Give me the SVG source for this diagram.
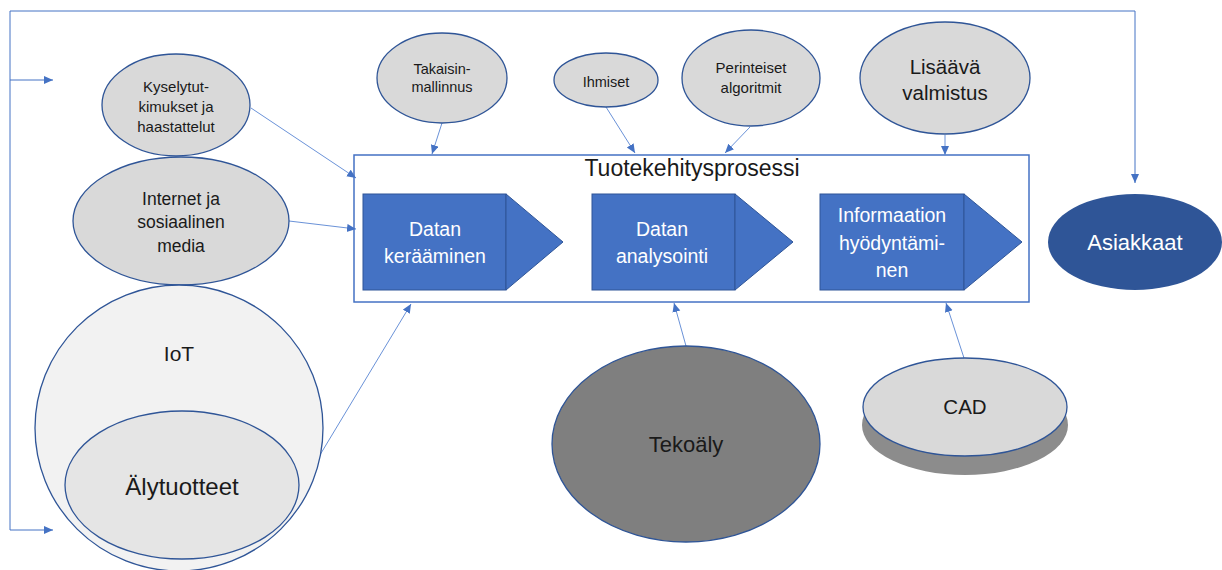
<svg xmlns="http://www.w3.org/2000/svg" width="1222" height="570" viewBox="0 0 1222 570">
<style>
text{font-family:"Liberation Sans",Arial,sans-serif;text-anchor:middle;fill:#1a1a1a}
.src{fill:#D9D9D9;stroke:#2F5597;stroke-width:1.3}
.conn{fill:none;stroke:#6A92D8;stroke-width:1;marker-end:url(#ah)}
.fb{fill:none;stroke:#4472C4;stroke-width:1;marker-end:url(#ah)}
.chev{fill:#4472C4;stroke:#2F5597;stroke-width:1}
.wt{fill:#ffffff}
</style>
<defs>
<marker id="ah" markerUnits="userSpaceOnUse" markerWidth="10" markerHeight="10" refX="9" refY="4" orient="auto">
<path d="M0,0 L9,4 L0,8 z" fill="#4472C4"/>
</marker>
</defs>
<rect width="1222" height="570" fill="#ffffff"/>

<g id="process-box">
<rect x="354" y="155" width="675" height="147" fill="#ffffff" stroke="#4472C4" stroke-width="1.5"/>
<text x="692" y="176" font-size="23">Tuotekehitysprosessi</text>
</g>

<g id="step1">
<rect class="chev" x="363" y="194" width="143" height="96"/>
<path class="chev" d="M506,194 L563,242 L506,290 z"/>
<text class="wt" x="435" y="236" font-size="19.5">Datan</text>
<text class="wt" x="435" y="263" font-size="19.5">kerääminen</text>
</g>
<g id="step2">
<rect class="chev" x="592" y="194" width="143" height="96"/>
<path class="chev" d="M735,194 L793,242 L735,290 z"/>
<text class="wt" x="662" y="236" font-size="19.5">Datan</text>
<text class="wt" x="662" y="263" font-size="19.5">analysointi</text>
</g>
<g id="step3">
<rect class="chev" x="820" y="194" width="144" height="96"/>
<path class="chev" d="M964,194 L1022,242 L964,290 z"/>
<text class="wt" x="892" y="222" font-size="19.5">Informaation</text>
<text class="wt" x="892" y="250" font-size="19.5">hyödyntämi-</text>
<text class="wt" x="892" y="277" font-size="19.5">nen</text>
</g>

<g id="connectors">
<path class="fb" d="M10,530 L10,11 L1135,11 L1135,183"/>
<path class="fb" d="M10,80 L53,80"/>
<path class="fb" d="M10,530 L53,530"/>
<path class="conn" d="M251,108 L356,178"/>
<path class="conn" d="M289,221 L356,229"/>
<path class="conn" d="M297,493 L411,304"/>
<path class="conn" d="M442,123 L432,154"/>
<path class="conn" d="M606,107 L635,153"/>
<path class="conn" d="M750,127 L725,153"/>
<path class="conn" d="M945,135 L945,155"/>
<path class="conn" d="M686,346 L674,303"/>
<path class="conn" d="M964,358 L946,303"/>
</g>

<g id="kyselytutkimukset">
<ellipse class="src" cx="176" cy="105" rx="74" ry="51"/>
<text x="176" y="92" font-size="15">Kyselytut-</text>
<text x="176" y="112" font-size="15">kimukset ja</text>
<text x="176" y="132" font-size="15">haastattelut</text>
</g>

<g id="internet">
<ellipse class="src" cx="181" cy="221" rx="108" ry="64"/>
<text x="181" y="205" font-size="17.5">Internet ja</text>
<text x="181" y="228" font-size="17.5">sosiaalinen</text>
<text x="181" y="252" font-size="17.5">media</text>
</g>

<g id="iot">
<ellipse cx="179" cy="428" rx="144" ry="143" fill="#F2F2F2" stroke="#2F5597" stroke-width="1.3"/>
<text x="179" y="361" font-size="21">IoT</text>
</g>

<g id="alytuotteet">
<ellipse cx="182" cy="485" rx="117" ry="74" fill="#E5E5E5" stroke="#2F5597" stroke-width="1.3"/>
<text x="182" y="495" font-size="24">Älytuotteet</text>
</g>

<g id="takaisinmallinnus">
<ellipse class="src" cx="442" cy="78" rx="65" ry="45"/>
<text x="442" y="74" font-size="14.5">Takaisin-</text>
<text x="442" y="92" font-size="14.5">mallinnus</text>
</g>

<g id="ihmiset">
<ellipse class="src" cx="606" cy="80" rx="52" ry="27"/>
<text x="606" y="87" font-size="14.5">Ihmiset</text>
</g>

<g id="perinteiset">
<ellipse class="src" cx="751" cy="78" rx="69" ry="48"/>
<text x="751" y="73" font-size="15">Perinteiset</text>
<text x="751" y="93" font-size="15">algoritmit</text>
</g>

<g id="lisaava">
<ellipse class="src" cx="945" cy="78" rx="85" ry="56"/>
<text x="945" y="74" font-size="20.5">Lisäävä</text>
<text x="945" y="100" font-size="20.5">valmistus</text>
</g>

<g id="asiakkaat">
<ellipse cx="1135" cy="242" rx="87" ry="48" fill="#2F5597"/>
<text class="wt" x="1135" y="250" font-size="22">Asiakkaat</text>
</g>

<g id="tekoaly">
<ellipse cx="686" cy="444" rx="134" ry="98" fill="#7F7F7F" stroke="#2F5597" stroke-width="1.3"/>
<text x="686" y="452" font-size="22">Tekoäly</text>
</g>

<g id="cad">
<ellipse cx="965" cy="425" rx="103" ry="50" fill="#8C8C8C"/>
<ellipse class="src" cx="965" cy="407" rx="102" ry="49"/>
<text x="965" y="414" font-size="20.5">CAD</text>
</g>
</svg>
